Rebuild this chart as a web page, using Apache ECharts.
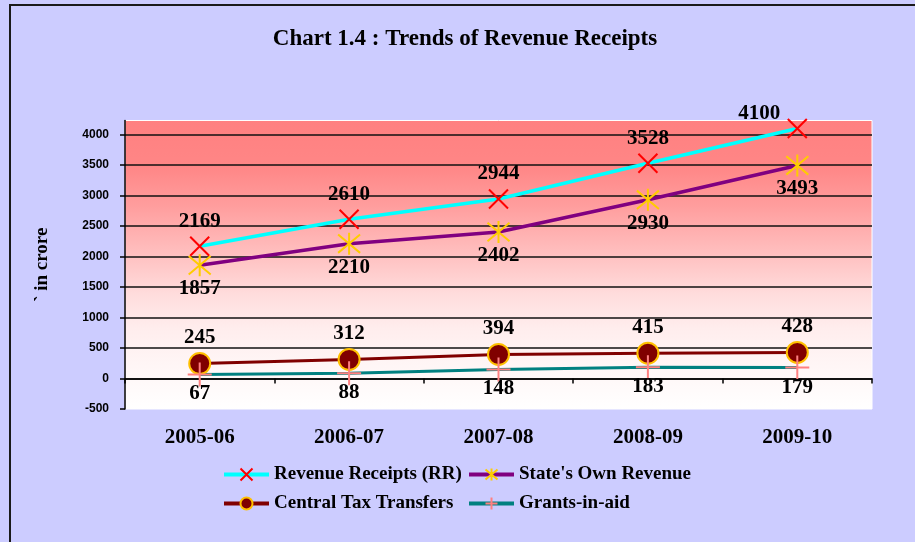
<!DOCTYPE html>
<html>
<head>
<meta charset="utf-8">
<script src="https://cdn.jsdelivr.net/npm/echarts@6/dist/echarts.min.js"></script>
<style>
  html, body { margin: 0; padding: 0; background: #ccccff; }
  #chart { width: 915px; height: 542px; }
</style>
</head>
<body>
<div id="chart"></div>
<script>
var years = ['2005-06', '2006-07', '2007-08', '2008-09', '2009-10'];
var revenueReceipts = [2169, 2610, 2944, 3528, 4100];
var ownRevenue = [1857, 2210, 2402, 2930, 3493];
var centralTax = [245, 312, 394, 415, 428];
var grantsInAid = [67, 88, 148, 183, 179];
var yTicks = [-500, 0, 500, 1000, 1500, 2000, 2500, 3000, 3500, 4000];
var names = ['Revenue Receipts (RR)', "State's Own Revenue", 'Central Tax Transfers', 'Grants-in-aid'];

var serif = 'Liberation Serif, Times New Roman, serif';

var myChart = echarts.init(document.getElementById('chart'));

function legendAt(name, left, top) {
  return {
    data: [name],
    left: left,
    top: top,
    padding: 0,
    itemWidth: 45,
    itemHeight: 15,
    selectedMode: false,
    lineStyle: { width: 4 },
    textStyle: { fontFamily: serif, fontWeight: 'bold', fontSize: 19, color: '#000' }
  }
}

function pointLabel(pos, dist) {
  return {
    show: true,
    position: pos,
    distance: dist,
    fontFamily: serif,
    fontWeight: 'bold',
    fontSize: 21,
    color: '#000'
  }
}

// split lines: none at -500 and at the top edge
var splitColors = ['rgba(0,0,0,0)', '#111', '#111', '#111', '#111', '#111', '#111', '#111', '#111', '#111', 'rgba(0,0,0,0)'];

var option = {
  backgroundColor: '#ccccff',
  animation: false,
  title: {
    text: 'Chart 1.4 : Trends of Revenue Receipts',
    left: 465,
    top: 28,
    padding: 0,
    textAlign: 'center',
    textStyle: { fontFamily: serif, fontWeight: 'bold', fontSize: 23, color: '#000' }
  },
  legend: [
    legendAt(names[0], 222, 465),
    legendAt(names[1], 467, 465),
    legendAt(names[2], 222, 494),
    legendAt(names[3], 467, 494)
  ],
  graphic: [{
    type: 'rect',
    shape: { x: 10, y: 5, width: 920, height: 560 },
    style: { fill: 'none', stroke: '#1a1a1a', lineWidth: 2 },
    silent: true
  }],
  grid: {
    left: 125,
    right: 43,
    top: 120.5,
    bottom: 133,
    show: true,
    borderColor: '#ffffff',
    borderWidth: 1,
    backgroundColor: new echarts.graphic.LinearGradient(0, 0, 0, 1, [
      { offset: 0, color: '#ff8080' },
      { offset: 0.16, color: '#ff8686' },
      { offset: 0.3, color: '#ff9e9e' },
      { offset: 0.45, color: '#ffbdbd' },
      { offset: 0.6, color: '#ffdcdc' },
      { offset: 0.72, color: '#ffeded' },
      { offset: 0.85, color: '#fff6f6' },
      { offset: 1, color: '#ffffff' }
    ])
  },
  xAxis: {
    type: 'category',
    boundaryGap: true,
    data: years,
    axisLine: { onZero: true, lineStyle: { color: '#000', width: 1.5 } },
    axisTick: { show: true, length: 5, lineStyle: { color: '#000', width: 1.5 } },
    axisLabel: { margin: 18, fontFamily: serif, fontWeight: 'bold', fontSize: 21, color: '#000' }
  },
  yAxis: {
    type: 'value',
    min: -500,
    max: 4230,
    interval: 500,
    name: '` in crore',
    nameLocation: 'middle',
    nameGap: 73,
    nameTextStyle: { fontFamily: serif, fontWeight: 'bold', fontSize: 19, color: '#000' },
    axisLine: { show: true, lineStyle: { color: '#000', width: 1.5 } },
    axisTick: { show: true, length: 5, customValues: yTicks, lineStyle: { color: '#000', width: 1.5 } },
    axisLabel: {
      customValues: yTicks,
      margin: 16,
      formatter: function (v) { return String(v) },
      fontFamily: 'Liberation Sans, Arial, sans-serif',
      fontWeight: 'bold',
      fontSize: 12,
      color: '#000'
    },
    splitLine: { show: true, lineStyle: { color: splitColors, width: 1.5 } }
  },
  series: [
    {
      name: names[0],
      type: 'line',
      data: revenueReceipts.map(function (v, i) {
        return i === 4 ? { value: v, label: { offset: [-38, 10] } } : v
      }),
      symbol: 'path://M0,0L10,10M10,0L0,10',
      symbolSize: 19,
      clip: false,
      lineStyle: { color: '#00ffff', width: 3.5 },
      itemStyle: { color: '#ff0000', borderColor: '#ff0000', borderWidth: 2 },
      label: pointLabel('top', 4)
    },
    {
      name: names[1],
      type: 'line',
      data: ownRevenue,
      symbol: 'path://M0,1L10,11M10,1L0,11M5,0L5,12',
      symbolSize: 22,
      lineStyle: { color: '#800080', width: 3.5 },
      itemStyle: { color: '#ffcc00', borderColor: '#ffcc00', borderWidth: 2 },
      label: pointLabel('bottom', 1)
    },
    {
      name: names[2],
      type: 'line',
      data: centralTax,
      symbol: 'circle',
      symbolSize: 21,
      lineStyle: { color: '#800000', width: 3 },
      itemStyle: { color: '#800000', borderColor: '#ffc000', borderWidth: 2 },
      label: pointLabel('top', 4)
    },
    {
      name: names[3],
      type: 'line',
      data: grantsInAid,
      symbol: 'path://M5,0L5,10M0,5L10,5',
      symbolSize: 24,
      lineStyle: { color: '#008080', width: 3 },
      itemStyle: { color: '#ff8080', borderColor: '#ff8080', borderWidth: 2 },
      label: pointLabel('bottom', -4)
    }
  ]
};

myChart.setOption(option);
</script>
</body>
</html>
